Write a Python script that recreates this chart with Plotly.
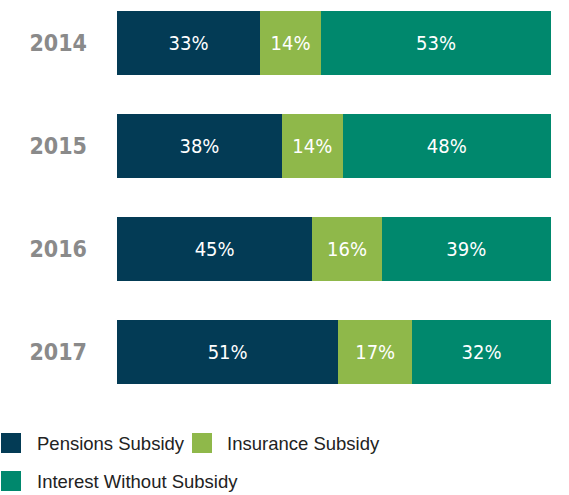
import plotly.graph_objects as go

years = ["2014", "2015", "2016", "2017"]
series_names = ["Pensions Subsidy", "Insurance Subsidy", "Interest Without Subsidy"]
pensions = [33, 38, 45, 51]
insurance = [14, 14, 16, 17]
interest = [53, 48, 39, 32]
colors = ["#033b55", "#8fb84a", "#00886d"]

W, H = 569, 495
ML, MR, MT, MB = 117, 18, 10, 110
PW, PH = W - ML - MR, H - MT - MB
COND = "DejaVu Sans Condensed, Liberation Sans Narrow, Arial Narrow, sans-serif"

fig = go.Figure()
for name, vals, col in zip(series_names, [pensions, insurance, interest], colors):
    fig.add_trace(go.Bar(
        y=years, x=vals, name=name, orientation="h",
        marker=dict(color=col, line=dict(width=0)),
        text=[f"{v}%" for v in vals], textposition="inside",
        insidetextanchor="middle",
        textfont=dict(family=COND, size=20, color="white"),
        showlegend=False, width=0.63,
    ))

def px_x(px):
    return (px - ML) / PW

def px_y(py):
    return (MT + PH - py) / PH

# custom legend (square swatches + labels)
legend_items = [
    (series_names[0], colors[0], 1, 35, 443),
    (series_names[1], colors[1], 192, 225, 443),
    (series_names[2], colors[2], 1, 35, 481),
]
shapes = []
annotations = []
for name, col, sx, tx, cy in legend_items:
    shapes.append(dict(type="rect", xref="paper", yref="paper",
                       x0=px_x(sx), x1=px_x(sx + 20), y0=px_y(cy + 10), y1=px_y(cy - 10),
                       fillcolor=col, line=dict(width=0)))
    annotations.append(dict(xref="paper", yref="paper", x=px_x(tx), y=px_y(cy),
                            text=name, showarrow=False, xanchor="left", yanchor="middle",
                            font=dict(family="Liberation Sans, Arial, sans-serif", size=18.5, color="#222222")))

fig.update_layout(
    width=W, height=H,
    margin=dict(l=ML, r=MR, t=MT, b=MB),
    barmode="stack",
    plot_bgcolor="white", paper_bgcolor="white",
    xaxis=dict(range=[0, 100], visible=False, fixedrange=True),
    yaxis=dict(type="category", range=[3.32, -0.32], showgrid=False, zeroline=False,
               showline=False, ticks="", ticklabelstandoff=29,
               tickfont=dict(family=COND, size=23, color="#8a8a8a", weight="bold")),
    shapes=shapes, annotations=annotations,
    uniformtext=dict(mode="show", minsize=10),
)

fig.write_html("out.html", config={"displayModeBar": False},
               post_script="document.body.style.margin='0';document.body.style.overflow='hidden';")
